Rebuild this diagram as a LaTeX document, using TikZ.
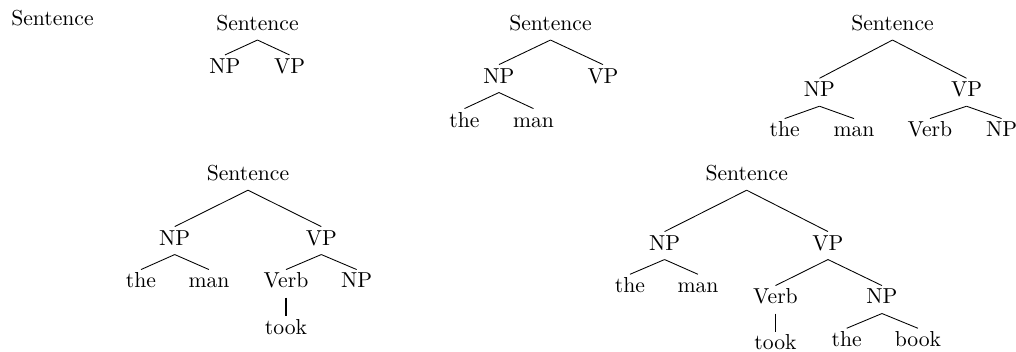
\documentclass[tikz,border=0pt]{standalone}
\begin{document}
\begin{tikzpicture}[
    word/.style={anchor=base, inner sep=2pt, text height=6.3pt, text depth=2.2pt},
    branch/.style={line width=0.4pt},
    lexical/.style={thick}]
  \useasboundingbox (0,0) rectangle (16.487,-5.696);

% ---------------- stage 0: the start symbol on its own
  \node[word] (a-s) at (0.852,-0.406) {Sentence};

% ---------------- stage 1: Sentence -> NP VP
  \node[word] (b-s)  at (4.178,-0.495) {Sentence};
  \node[word] (b-np) at (3.651,-1.190) {NP};
  \node[word] (b-vp) at (4.698,-1.190) {VP};
  \draw[branch] (b-s.south) -- (b-np.north);
  \draw[branch] (b-s.south) -- (b-vp.north);

% ---------------- stage 2: NP -> the man
  \node[word] (c-s)   at (8.933,-0.495) {Sentence};
  \node[word] (c-np)  at (8.097,-1.347) {NP};
  \node[word] (c-vp)  at (9.785,-1.347) {VP};
  \node[word] (c-the) at (7.537,-2.061) {the};
  \node[word] (c-man) at (8.657,-2.061) {man};
  \draw[branch] (c-s.south) -- (c-np.north);
  \draw[branch] (c-s.south) -- (c-vp.north);
  \draw[branch] (c-np.south) -- (c-the.north);
  \draw[branch] (c-np.south) -- (c-man.north);

% ---------------- stage 3: VP -> Verb NP
  \node[word] (d-s)    at (14.483,-0.495) {Sentence};
  \node[word] (d-np)   at (13.298,-1.569) {NP};
  \node[word] (d-vp)   at (15.684,-1.569) {VP};
  \node[word] (d-the)  at (12.733,-2.223) {the};
  \node[word] (d-man)  at (13.858,-2.223) {man};
  \node[word] (d-verb) at (15.091,-2.223) {Verb};
  \node[word] (d-np2)  at (16.253,-2.223) {NP};
  \draw[branch] (d-s.south) -- (d-np.north);
  \draw[branch] (d-s.south) -- (d-vp.north);
  \draw[branch] (d-np.south) -- (d-the.north);
  \draw[branch] (d-np.south) -- (d-man.north);
  \draw[branch] (d-vp.south) -- (d-verb.north);
  \draw[branch] (d-vp.south) -- (d-np2.north);

% ---------------- stage 4: Verb -> took
  \node[word] (e-s)    at (4.024,-2.932) {Sentence};
  \node[word] (e-np)   at (2.835,-3.976) {NP};
  \node[word] (e-vp)   at (5.214,-3.976) {VP};
  \node[word] (e-the)  at (2.288,-4.673) {the};
  \node[word] (e-man)  at (3.391,-4.673) {man};
  \node[word] (e-verb) at (4.641,-4.673) {Verb};
  \node[word] (e-np2)  at (5.788,-4.673) {NP};
  \node[word] (e-took) at (4.641,-5.420) {took};
  \draw[branch] (e-s.south) -- (e-np.north);
  \draw[branch] (e-s.south) -- (e-vp.north);
  \draw[branch] (e-np.south) -- (e-the.north);
  \draw[branch] (e-np.south) -- (e-man.north);
  \draw[branch] (e-vp.south) -- (e-verb.north);
  \draw[branch] (e-vp.south) -- (e-np2.north);
  \draw[lexical] (e-verb.south) -- (e-took.north);

% ---------------- stage 5: NP -> the book
  \node[word] (f-s)    at (12.117,-2.932) {Sentence};
  \node[word] (f-np)   at (10.784,-4.057) {NP};
  \node[word] (f-vp)   at (13.436,-4.057) {VP};
  \node[word] (f-the)  at (10.223,-4.750) {the};
  \node[word] (f-man)  at (11.326,-4.750) {man};
  \node[word] (f-verb) at (12.584,-4.933) {Verb};
  \node[word] (f-np2)  at (14.312,-4.933) {NP};
  \node[word] (f-took) at (12.584,-5.679) {took};
  \node[word] (f-the2) at (13.739,-5.626) {the};
  \node[word] (f-book) at (14.896,-5.626) {book};
  \draw[branch] (f-s.south) -- (f-np.north);
  \draw[branch] (f-s.south) -- (f-vp.north);
  \draw[branch] (f-np.south) -- (f-the.north);
  \draw[branch] (f-np.south) -- (f-man.north);
  \draw[branch] (f-vp.south) -- (f-verb.north);
  \draw[branch] (f-vp.south) -- (f-np2.north);
  \draw[lexical] (f-verb.south) -- (f-took.north);
  \draw[branch] (f-np2.south) -- (f-the2.north);
  \draw[branch] (f-np2.south) -- (f-book.north);
\end{tikzpicture}
\end{document}
